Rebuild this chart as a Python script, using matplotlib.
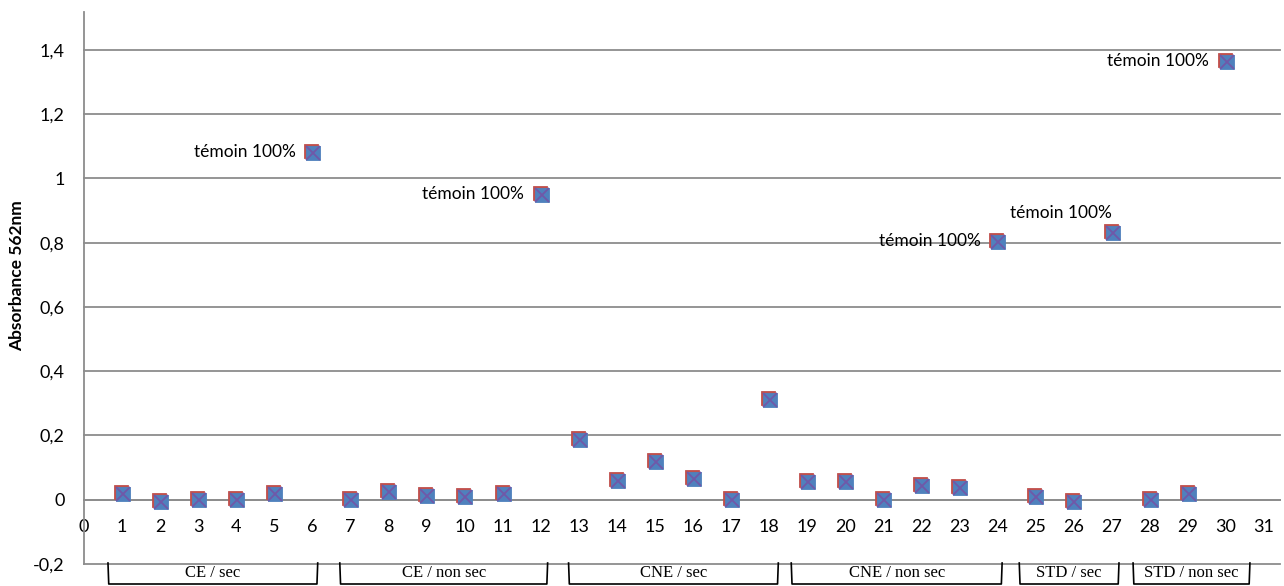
import matplotlib
matplotlib.use("Agg")
import matplotlib.pyplot as plt
import matplotlib.transforms as mtransforms

# ---- data ----
samples = list(range(1, 31))
absorbance = [0.020, -0.005, 0.003, 0.003, 0.020, 1.082,
              0.003, 0.028, 0.015, 0.010, 0.020, 0.952,
              0.187, 0.062, 0.121, 0.068, 0.003, 0.314,
              0.057, 0.057, 0.003, 0.046, 0.040, 0.806,
              0.010, -0.003, 0.834,
              0.003, 0.020, 1.366]
control_samples = [6, 12, 24, 27, 30]
control_label = "témoin 100%"
group_labels = ["CE / sec", "CE / non sec", "CNE / sec", "CNE / non sec",
                "STD / sec", "STD / non sec"]
group_ranges = [(1, 6), (7, 12), (13, 18), (19, 24), (25, 27), (28, 30)]
y_ticks = [-0.2, 0, 0.2, 0.4, 0.6, 0.8, 1.0, 1.2, 1.4]
y_tick_labels = ["-0,2", "0", "0,2", "0,4", "0,6", "0,8", "1", "1,2", "1,4"]
x_ticks = list(range(0, 32))
y_label = "Absorbance 562nm"

# ---- layout (bracket extents relative to group start/end) ----
bracket_pad = [(-0.37, 0.14), (-0.28, 0.18), (-0.27, 0.24),
               (-0.42, 0.12), (-0.43, 0.19), (-0.44, 0.63)]

# ---- style ----
FONT = ["Lato", "DejaVu Sans"]
plt.rcParams['font.family'] = FONT
GRID = "#8c8c8c"
RED = "#C0504D"
BLUE = "#4F81BD"
XCOL = "#7058A8"

W, H = 1284, 586
fig = plt.figure(figsize=(W / 100, H / 100), dpi=100)
ax = fig.add_axes([84 / W, (H - 564) / H, (1280 - 84) / W, (564 - 12) / H])
ax.set_xlim(0, 31.42)
ax.set_ylim(-0.2, 1.518)

for s in ["top", "right"]:
    ax.spines[s].set_visible(False)
ax.spines["left"].set_color(GRID)
ax.spines["left"].set_linewidth(1.3)
ax.spines["left"].set_bounds(-0.2, 1.518)
ax.spines["bottom"].set_position(("data", 0))
ax.spines["bottom"].set_color(GRID)
ax.spines["bottom"].set_linewidth(1.3)

ax.set_yticks(y_ticks)
ax.set_yticklabels(y_tick_labels)
ax.set_xticks(x_ticks)
ax.set_xticklabels([str(t) for t in x_ticks])
ax.tick_params(axis='both', length=0, labelsize=13)
ax.tick_params(axis='y', pad=14)
ax.tick_params(axis='x', pad=14)

for yv in y_ticks:
    ax.axhline(yv, color=GRID, lw=1.3, zorder=1, clip_on=False)

# markers: red square slightly up-left, blue square with X slightly down-right
off_red = mtransforms.ScaledTranslation(-1.2 / 100, 1.2 / 100, fig.dpi_scale_trans)
off_blue = mtransforms.ScaledTranslation(0.8 / 100, -0.8 / 100, fig.dpi_scale_trans)
ax.plot(samples, absorbance, ls="none", marker="s", ms=10.5, mfc=RED, mec=RED,
        mew=0.6, transform=ax.transData + off_red, zorder=3, clip_on=False)
ax.plot(samples, absorbance, ls="none", marker="s", ms=10.5, mfc=BLUE, mec=BLUE,
        mew=0.6, transform=ax.transData + off_blue, zorder=4, clip_on=False)
ax.plot(samples, absorbance, ls="none", marker="x", ms=9.5, mec=XCOL,
        mew=1.3, transform=ax.transData + off_blue, zorder=5, clip_on=False)

# control labels
for s in control_samples:
    v = absorbance[s - 1]
    if s == 27:
        ax.annotate(control_label, (s, v), xytext=(0, 8), textcoords="offset points",
                    ha="right", va="bottom", fontsize=12.5, family=FONT)
    else:
        ax.annotate(control_label, (s, v), xytext=(-12, 0), textcoords="offset points",
                    ha="right", va="center", fontsize=12.5, family=FONT)

# y label
fig.text(17 / W, (H - 276) / H, y_label, rotation=90, ha="center", va="center",
         fontsize=12.5, fontweight="bold", family=FONT)

# group brackets below the axis
trans = mtransforms.blended_transform_factory(ax.transData, fig.transFigure)
y_top = (H - 563) / H
y_bot = (H - 584) / H
for (a, b), (pl, pr), lab in zip(group_ranges, bracket_pad, group_labels):
    x0 = a + pl
    x1 = b + pr
    ax.plot([x0, x0 + 0.02, x1 - 0.02, x1], [y_top, y_bot, y_bot, y_top],
            color="black", lw=1.2, transform=trans, clip_on=False, zorder=2)
    ax.text((x0 + x1) / 2, (H - 573) / H, lab, transform=trans, ha="center",
            va="center", fontsize=12, family=["Liberation Serif", "DejaVu Serif"])

fig.savefig("out.png", dpi=100)
